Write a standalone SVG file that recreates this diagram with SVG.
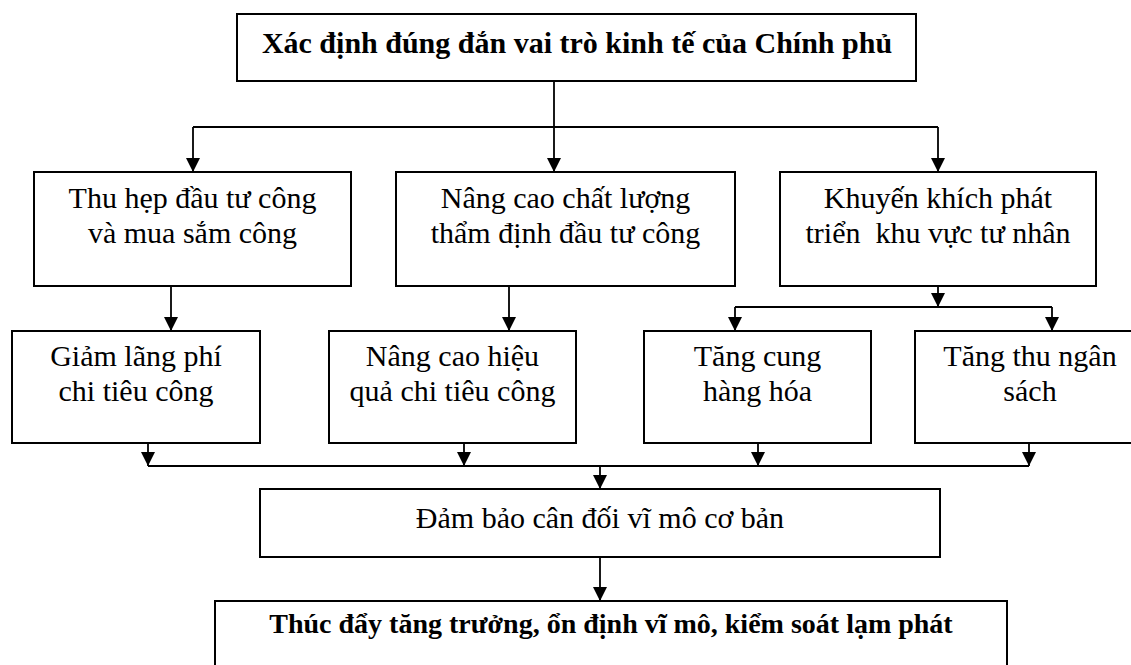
<svg xmlns="http://www.w3.org/2000/svg" width="1131" height="665" viewBox="0 0 1131 665">
<defs>
<style>
.box{fill:#fff;stroke:#000;stroke-width:2}
.t{font-family:"Liberation Serif","Times New Roman",serif;font-size:30px;fill:#000;text-anchor:middle}
.b{font-weight:bold}
.c{fill:none;stroke:#000;stroke-width:1.8}
</style>
<marker id="ah" viewBox="0 0 14 14" refX="14" refY="7" markerWidth="14" markerHeight="14" markerUnits="userSpaceOnUse" orient="auto">
<path d="M0,0 L14,7 L0,14 Z" fill="#000"/>
</marker>
</defs>
<rect width="1131" height="665" fill="#fff"/>
<g id="connectors">
<path class="c" d="M554,81 V172" marker-end="url(#ah)"/>
<path class="c" d="M193,127 H938"/>
<path class="c" d="M193,127 V172" marker-end="url(#ah)"/>
<path class="c" d="M938,127 V172" marker-end="url(#ah)"/>
<path class="c" d="M171,286 V331" marker-end="url(#ah)"/>
<path class="c" d="M509,286 V331" marker-end="url(#ah)"/>
<path class="c" d="M938,286 V307" marker-end="url(#ah)"/>
<path class="c" d="M735,307 H1052"/>
<path class="c" d="M735,307 V331" marker-end="url(#ah)"/>
<path class="c" d="M1052,307 V331" marker-end="url(#ah)"/>
<path class="c" d="M148,443 V466" marker-end="url(#ah)"/>
<path class="c" d="M464,443 V466" marker-end="url(#ah)"/>
<path class="c" d="M758,443 V466" marker-end="url(#ah)"/>
<path class="c" d="M1029,443 V466" marker-end="url(#ah)"/>
<path class="c" d="M148,466 H1029"/>
<path class="c" d="M600,466 V489" marker-end="url(#ah)"/>
<path class="c" d="M600,557 V601" marker-end="url(#ah)"/>
</g>
<g id="n-top">
<rect class="box" x="237" y="14" width="679" height="67"/>
<text class="t b" x="577" y="53">Xác định đúng đắn vai trò kinh tế của Chính phủ</text>
</g>
<g id="n-thu-hep">
<rect class="box" x="34" y="172" width="317" height="114"/>
<text class="t" x="192.5" y="208">Thu hẹp đầu tư công</text>
<text class="t" x="192.5" y="243">và mua sắm công</text>
</g>
<g id="n-nang-cao-cl">
<rect class="box" x="396" y="172" width="339" height="114"/>
<text class="t" x="565.5" y="208">Nâng cao chất lượng</text>
<text class="t" x="565.5" y="243">thẩm định đầu tư công</text>
</g>
<g id="n-khuyen-khich">
<rect class="box" x="780" y="172" width="316" height="114"/>
<text class="t" x="938" y="208">Khuyến khích phát</text>
<text class="t" x="938" y="243" xml:space="preserve">triển  khu vực tư nhân</text>
</g>
<g id="n-giam">
<rect class="box" x="12" y="331" width="248" height="112"/>
<text class="t" x="136" y="366">Giảm lãng phí</text>
<text class="t" x="136" y="401">chi tiêu công</text>
</g>
<g id="n-hieu-qua">
<rect class="box" x="329" y="331" width="247" height="112"/>
<text class="t" x="452.5" y="366">Nâng cao hiệu</text>
<text class="t" x="452.5" y="401">quả chi tiêu công</text>
</g>
<g id="n-tang-cung">
<rect class="box" x="644" y="331" width="227" height="112"/>
<text class="t" x="757.5" y="366">Tăng cung</text>
<text class="t" x="757.5" y="401">hàng hóa</text>
</g>
<g id="n-tang-thu">
<rect class="box" x="915" y="331" width="230" height="112"/>
<text class="t" x="1030" y="366">Tăng thu ngân</text>
<text class="t" x="1030" y="401">sách</text>
</g>
<g id="n-dam-bao">
<rect class="box" x="260" y="489" width="680" height="68"/>
<text class="t" x="600" y="528">Đảm bảo cân đối vĩ mô cơ bản</text>
</g>
<g id="n-thuc-day">
<rect class="box" x="215" y="601" width="792" height="80"/>
<text class="t b" x="611" y="633" style="font-size:28px">Thúc đẩy tăng trưởng, ổn định vĩ mô, kiểm soát lạm phát</text>
</g>
</svg>
